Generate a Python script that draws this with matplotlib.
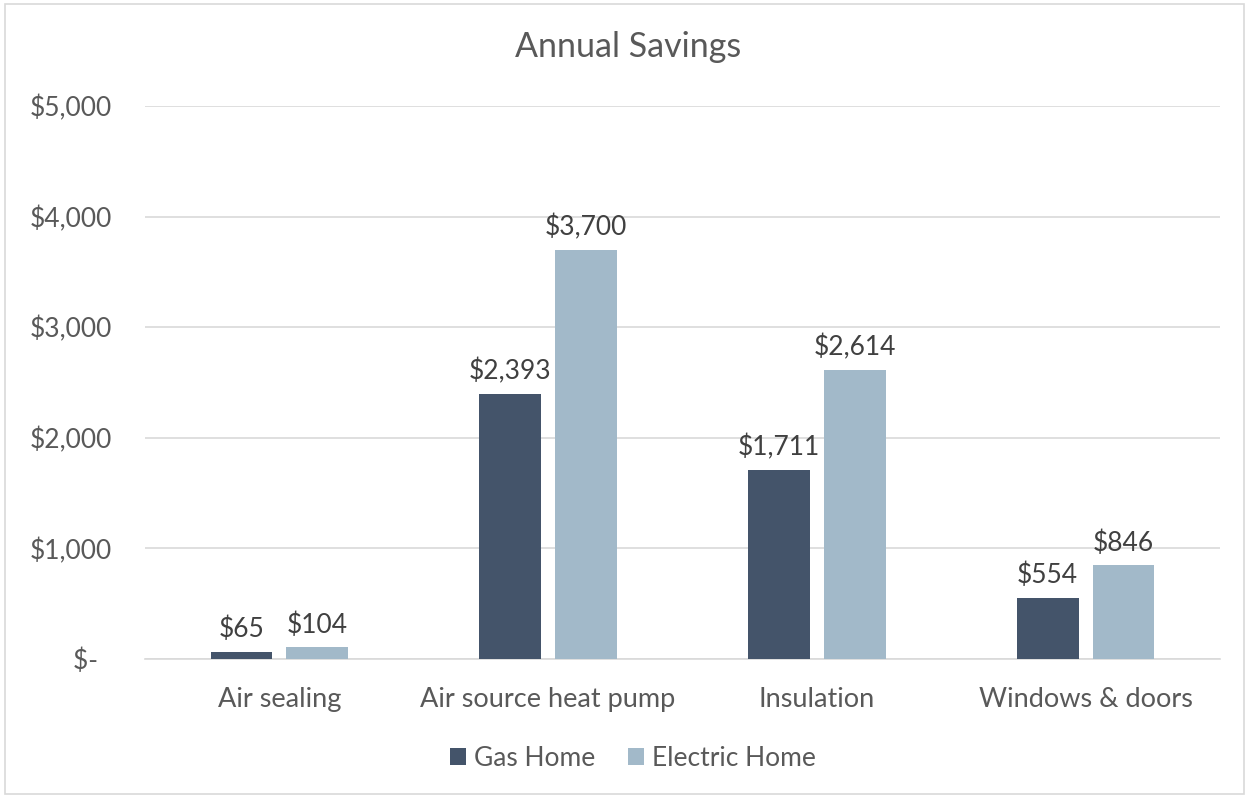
import matplotlib
matplotlib.use("Agg")
import matplotlib.pyplot as plt
import numpy as np
from matplotlib.patches import Rectangle

categories = ["Air sealing", "Air source heat pump", "Insulation", "Windows & doors"]
gas_home = [65, 2393, 1711, 554]
electric_home = [104, 3700, 2614, 846]
series_names = ["Gas Home", "Electric Home"]
y_ticks = [0, 1000, 2000, 3000, 4000, 5000]
y_tick_labels = ["$-  ", "$1,000", "$2,000", "$3,000", "$4,000", "$5,000"]

plt.rcParams['font.family'] = ['Lato', 'DejaVu Sans']

fig = plt.figure(figsize=(12.49, 7.98), dpi=100)
ax = fig.add_axes([145/1249, 1-659/798, (1220-145)/1249, (659-106)/798])

x = np.arange(len(categories))
w = 0.23
off = 0.141
c_gas = "#44546A"
c_el = "#A2B9C9"
b1 = ax.bar(x - off, gas_home, w, color=c_gas, label=series_names[0], zorder=3)
b2 = ax.bar(x + off, electric_home, w, color=c_el, label=series_names[1], zorder=3)

for bars, vals in ((b1, gas_home), (b2, electric_home)):
    for b, v in zip(bars, vals):
        ax.annotate(f"${v:,}", (b.get_x() + b.get_width()/2, v), xytext=(0, 7),
                    textcoords="offset points", ha="center", va="bottom",
                    fontsize=19, color="#404040")

ax.set_xlim(-0.5, len(categories) - 0.5)
ax.set_ylim(0, 5000)
ax.set_yticks(y_ticks)
ax.set_yticklabels(y_tick_labels)
ax.set_xticks(x)
ax.set_xticklabels(categories)
ax.tick_params(axis='y', length=0, pad=24, labelsize=19, labelcolor="#595959")
ax.tick_params(axis='x', length=0, pad=20, labelsize=19.5, labelcolor="#595959")
ax.grid(axis='y', color="#D9D9D9", linewidth=1.2, zorder=0)
for s in ["top", "right", "left"]:
    ax.spines[s].set_visible(False)
ax.spines["bottom"].set_color("#D9D9D9")
ax.spines["bottom"].set_linewidth(1.2)

fig.text(628/1249, 1-47/798, "Annual Savings", ha="center", va="center",
         fontsize=24.5, color="#595959")

leg = fig.legend(handles=[b1, b2], labels=series_names, loc="center",
                 bbox_to_anchor=(633/1249, 1-758/798), ncol=2, frameon=False,
                 fontsize=19, handlelength=0.6, handleheight=0.6, columnspacing=1.25,
                 handletextpad=0.3)
for t in leg.get_texts():
    t.set_color("#595959")

fig.patches.append(Rectangle((5/1249, 4/798), 1 - 10/1249, 1 - 8/798, transform=fig.transFigure,
                             fill=False, edgecolor="#D9D9D9", linewidth=1.2))

fig.savefig("out.png", dpi=100)
